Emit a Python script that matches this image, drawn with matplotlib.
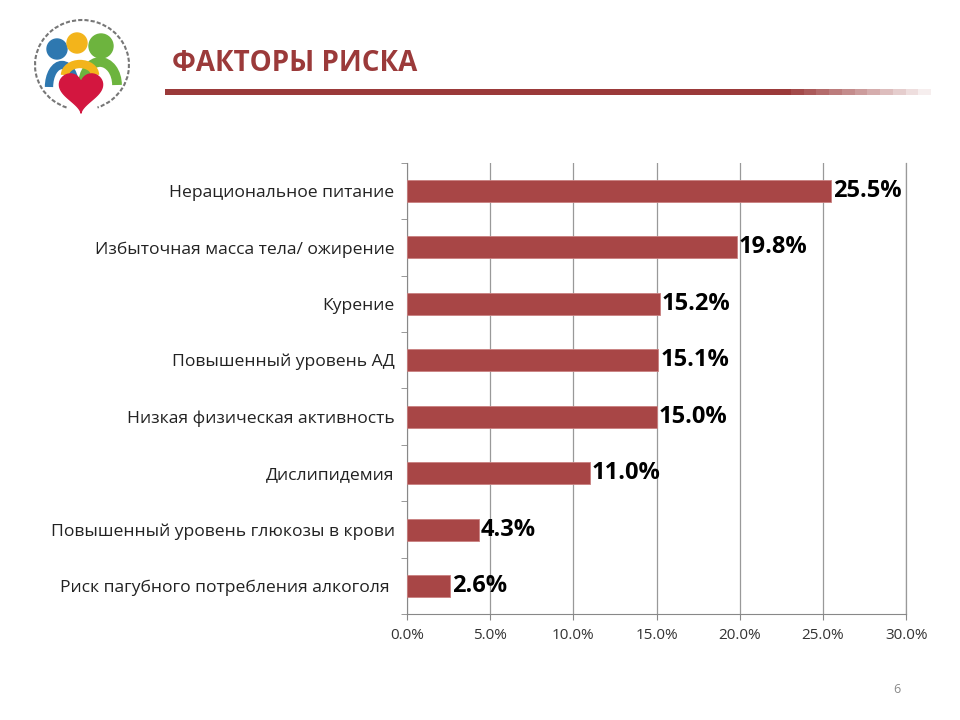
import numpy as np
import matplotlib.pyplot as plt
from matplotlib.patches import Circle, Polygon, Rectangle, Arc
from matplotlib.ticker import FuncFormatter

plt.rcParams['font.family'] = ['Open Sans', 'DejaVu Sans']

categories = [
    "Нерациональное питание",
    "Избыточная масса тела/ ожирение",
    "Курение",
    "Повышенный уровень АД",
    "Низкая физическая активность",
    "Дислипидемия",
    "Повышенный уровень глюкозы в крови",
    "Риск пагубного потребления алкоголя ",
]
values = [25.5, 19.8, 15.2, 15.1, 15.0, 11.0, 4.3, 2.6]
ticks = [0, 5, 10, 15, 20, 25, 30]

bar_color = "#A84646"
title_color = "#9B3A3A"

fig = plt.figure(figsize=(9.6, 7.2), dpi=100)
ax = fig.add_axes([0.424, 0.147, 0.52, 0.627])

y = np.arange(len(categories))[::-1]
ax.barh(y, values, height=0.39, color=bar_color, edgecolor="#C98080", linewidth=0.6, zorder=3)
for yi, v in zip(y, values):
    ax.text(v + 0.12, yi, f"{v:.1f}%", va="center", ha="left",
            fontsize=17, fontweight="bold", color="black")

ax.set_xlim(0, 30)
ax.set_ylim(-0.5, len(categories) - 0.5)
ax.set_xticks(ticks)
ax.xaxis.set_major_formatter(FuncFormatter(lambda v, p: f"{v:.1f}%"))
ax.set_yticks(y)
ax.set_yticklabels(categories)
ax.set_yticks(np.arange(-0.5, len(categories), 1), minor=True)
ax.tick_params(axis="y", which="major", length=0, pad=9, labelsize=12.6, colors="#222222")
ax.tick_params(axis="y", which="minor", length=4, color="#888888", direction="out")
ax.tick_params(axis="x", length=4, color="#888888", labelsize=11, colors="#333333", pad=6)
ax.grid(axis="x", color="#999999", linewidth=0.9, zorder=0)
ax.axvline(30, color="#999999", linewidth=0.9, zorder=0, clip_on=False)
for s in ["top", "right"]:
    ax.spines[s].set_visible(False)
for s in ["left", "bottom"]:
    ax.spines[s].set_color("#888888")

# header
fig.text(0.179, 0.912, "ФАКТОРЫ РИСКА", fontsize=20, fontweight="bold",
         color=title_color, ha="left", va="center")
n = 60
xs = np.linspace(0.172, 0.97, n + 1)
for i in range(n):
    a = 1.0 if i < n * 0.8 else max(0.0, 1 - (i - n * 0.8) / (n * 0.2))
    fig.patches.append(Rectangle((xs[i], 0.868), xs[i + 1] - xs[i], 0.009,
                                 transform=fig.transFigure, color=title_color,
                                 alpha=a, linewidth=0))

# simple logo (pixel-sized axes)
lx = fig.add_axes([30 / 960, 1 - 115 / 720, 105 / 960, 100 / 720])
lx.set_xlim(0, 105)
lx.set_ylim(100, 0)
lx.axis("off")
lx.add_patch(Arc((52, 50), 94, 90, theta1=-250, theta2=70, color="#777777", lw=1.5, ls=(0, (2, 1))))
lx.add_patch(Arc((32, 72), 26, 44, theta1=180, theta2=360, color="#2E78B0", lw=6))
lx.add_patch(Arc((70, 70), 34, 46, theta1=180, theta2=360, color="#6DB43E", lw=7))
lx.add_patch(Arc((50, 60), 30, 22, theta1=180, theta2=360, color="#F3B41B", lw=6))
lx.add_patch(Circle((27, 34), 10, color="#2E78B0"))
lx.add_patch(Circle((47, 28), 10, color="#F3B41B"))
lx.add_patch(Circle((71, 31), 12, color="#6DB43E"))
t = np.linspace(0, 2 * np.pi, 100)
hx = 16 * np.sin(t) ** 3
hy = 13 * np.cos(t) - 5 * np.cos(2 * t) - 2 * np.cos(3 * t) - np.cos(4 * t)
lx.add_patch(Polygon(np.column_stack([51 + hx * 1.35, 75 - hy * 1.35]), closed=True,
                     color="#D3163F", clip_on=False))

fig.text(0.934, 0.043, "6", fontsize=9, color="#888888", ha="center", va="center")

fig.savefig("out.png", dpi=100)
